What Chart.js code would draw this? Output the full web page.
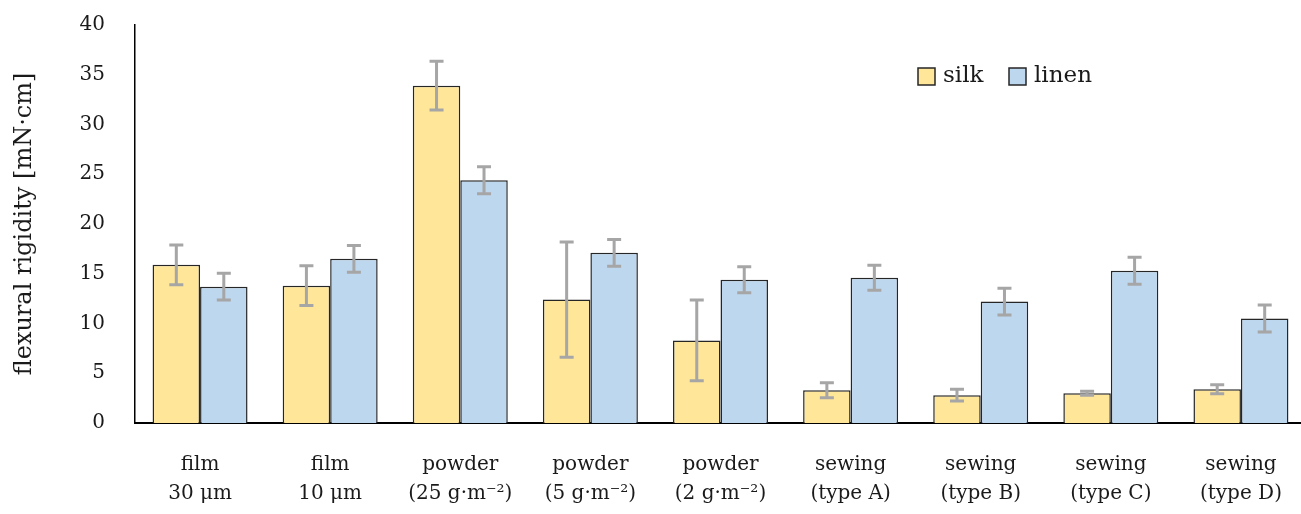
<!DOCTYPE html>
<html>
<head>
<meta charset="utf-8">
<script src="https://cdn.jsdelivr.net/npm/chart.js@4.4.1/dist/chart.umd.min.js"></script>
<style>
  html, body { margin: 0; padding: 0; background: #fff; overflow: hidden; }
  #wrap { width: 1306px; height: 514px; }
</style>
</head>
<body>
<div id="wrap"><canvas id="myChart"></canvas></div>
<script>
// categorias e valores
const categories = [
  ['film', '30 μm'], ['film', '10 μm'],
  ['powder', '(25 g·m⁻²)'], ['powder', '(5 g·m⁻²)'], ['powder', '(2 g·m⁻²)'],
  ['sewing', '(type A)'], ['sewing', '(type B)'], ['sewing', '(type C)'], ['sewing', '(type D)']
];
const silk = [15.9, 13.8, 33.9, 12.4, 8.3, 3.3, 2.8, 3.0, 3.4];
const silkErr = [2.0, 2.0, 2.45, 5.8, 4.05, 0.75, 0.6, 0.2, 0.45];
const linen = [13.7, 16.5, 24.4, 17.1, 14.4, 14.6, 12.2, 15.3, 10.5];
const linenErr = [1.35, 1.35, 1.35, 1.35, 1.3, 1.25, 1.35, 1.35, 1.35];
const yTicks = [0, 5, 10, 15, 20, 25, 30, 35, 40];

const errors = [silkErr, linenErr];
const FONT = "'DejaVu Serif', serif";
const INK = '#1a1a1a';

// Barras de erro + legenda desenhadas à mão
const extras = {
  id: 'extras',
  afterDatasetsDraw(chart) {
    const ctx = chart.ctx;
    const y = chart.scales.y;
    ctx.save();
    ctx.strokeStyle = '#a6a6a6';
    ctx.lineWidth = 3;
    chart.data.datasets.forEach((ds, di) => {
      const meta = chart.getDatasetMeta(di);
      meta.data.forEach((bar, i) => {
        const v = ds.data[i], e = errors[di][i];
        const yt = y.getPixelForValue(v + e);
        const yb = y.getPixelForValue(v - e);
        ctx.beginPath();
        ctx.moveTo(bar.x, yt); ctx.lineTo(bar.x, yb);
        ctx.moveTo(bar.x - 7, yt); ctx.lineTo(bar.x + 7, yt);
        ctx.moveTo(bar.x - 7, yb); ctx.lineTo(bar.x + 7, yb);
        ctx.stroke();
      });
    });
    // legenda
    const lx = [918, 1009];
    const ly = 68;
    ctx.font = '23px ' + FONT;
    ctx.textBaseline = 'middle';
    chart.data.datasets.forEach((ds, di) => {
      ctx.fillStyle = ds.backgroundColor;
      ctx.fillRect(lx[di], ly, 17, 17);
      ctx.strokeStyle = '#262626';
      ctx.lineWidth = 1.5;
      ctx.strokeRect(lx[di], ly, 17, 17);
      ctx.fillStyle = INK;
      ctx.fillText(ds.label, lx[di] + 25, ly + 8);
    });
    ctx.restore();
  }
};

const ctx = document.getElementById('myChart').getContext('2d');
new Chart(ctx, {
  type: 'bar',
  data: {
    labels: categories,
    datasets: [
      { label: 'silk', data: silk, backgroundColor: '#ffe699', borderColor: '#262626', borderWidth: 1.5 },
      { label: 'linen', data: linen, backgroundColor: '#bdd7ee', borderColor: '#262626', borderWidth: 1.5 }
    ]
  },
  options: {
    responsive: true,
    maintainAspectRatio: false,
    animation: false,
    layout: { padding: { top: 25, right: 0, bottom: 0, left: 10 } },
    datasets: { bar: { categoryPercentage: 0.73, barPercentage: 1 } },
    plugins: { legend: { display: false }, tooltip: { enabled: false } },
    scales: {
      x: {
        afterFit(scale) {
          scale.height = 91;
          scale.paddingLeft = 0; scale.paddingRight = 0; scale.paddingTop = 0; scale.paddingBottom = 0;
        },
        grid: { display: false, drawTicks: false },
        border: { color: '#000', width: 2 },
        ticks: { color: INK, font: { family: FONT, size: 20, lineHeight: 1.45 }, padding: 27, maxRotation: 0, autoSkip: false }
      },
      y: {
        min: 0, max: 40,
        afterBuildTicks(scale) { scale.ticks = yTicks.map(v => ({ value: v })); },
        afterFit(scale) {
          scale.width = 125;
          scale.paddingTop = 0; scale.paddingBottom = 0;
        },
        grid: { display: false, drawTicks: false },
        border: { color: '#000', width: 1.5 },
        ticks: { color: INK, font: { family: FONT, size: 20 }, padding: 30 },
        title: { display: true, text: 'flexural rigidity [mN·cm]', color: INK, font: { family: FONT, size: 24 }, padding: 0 }
      }
    }
  },
  plugins: [extras]
});
</script>
</body>
</html>
